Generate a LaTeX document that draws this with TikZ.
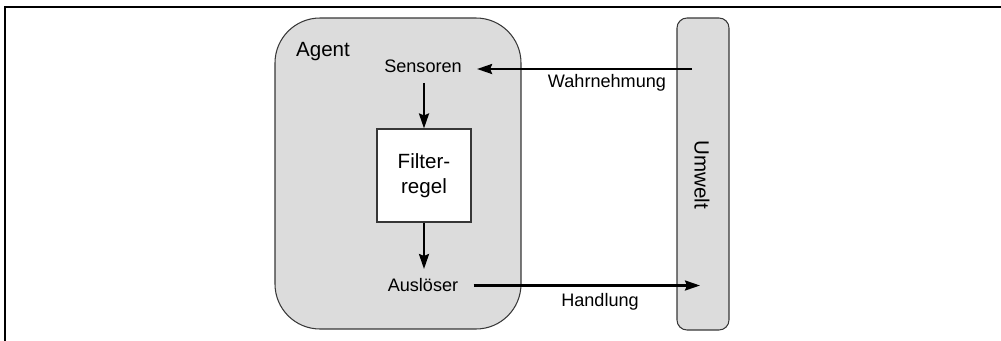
\documentclass[tikz,border=0pt]{standalone}
\usepackage{fontspec}
\setmainfont{Liberation Sans}
\usetikzlibrary{arrows.meta}
\definecolor{boxgray}{RGB}{220,220,220}
\definecolor{edgegray}{RGB}{55,55,55}

\begin{document}
\begin{tikzpicture}[
    panel/.style={draw=edgegray, fill=boxgray, line width=0.6pt},
    lbl/.style={font=\fontsize{10.3}{12}\selectfont, inner xsep=0.3cm, inner ysep=0.19cm},
    biglbl/.style={font=\fontsize{11.7}{14.2}\selectfont, inner sep=0pt},
    flow/.style={-{Stealth[length=0.3cm,width=0.2cm,inset=0.04cm]}, line width=1.35pt}
]
    \clip (0,0) rectangle (20.02,6.8);
    % outer frame
    \draw[line width=0.6pt] (0.1,-1) -- (0.1,6.66) -- (21,6.66);

    % Agent
    \node[panel, rounded corners=0.9cm, minimum width=4.92cm, minimum height=6.22cm] (agent) at (7.96,3.33) {};
    \node[biglbl, anchor=base] (agentlbl) at (6.46,5.68) {Agent};
    \node[lbl] (sensoren) at (8.46,5.47) {Sensoren};
    \node[draw=edgegray, fill=white, line width=0.6pt, biglbl, align=center,
          minimum width=1.88cm, minimum height=1.86cm] (filter) at (8.48,3.29) {Filter-\\regel};
    \node[lbl] (ausloeser) at (8.46,1.09) {Auslöser};

    % Umwelt
    \node[panel, rounded corners=0.2cm, minimum width=1.04cm, minimum height=6.24cm] (umwelt) at (14.06,3.32) {};
    \node[biglbl, rotate=-90] (umweltlbl) at (14.04,3.3) {Umwelt};
    \coordinate (umw-in) at (13.84,5.42);
    \coordinate (umw-out) at (14.0,1.09);

    % connectors
    \draw[flow] (umw-in) -- (sensoren.east |- umw-in);
    \draw[flow] (sensoren.south -| filter.north) -- (filter.north);
    \draw[flow] (filter.south) -- (filter.south |- ausloeser.north);
    \draw[flow] (ausloeser.east) -- (umw-out);
    \node[lbl, inner sep=0pt, anchor=base] (wahrlbl) at (12.14,5.05) {Wahrnehmung};
    \node[lbl, inner sep=0pt, anchor=base] (handlbl) at (12.0,0.68) {Handlung};
\end{tikzpicture}
\end{document}
